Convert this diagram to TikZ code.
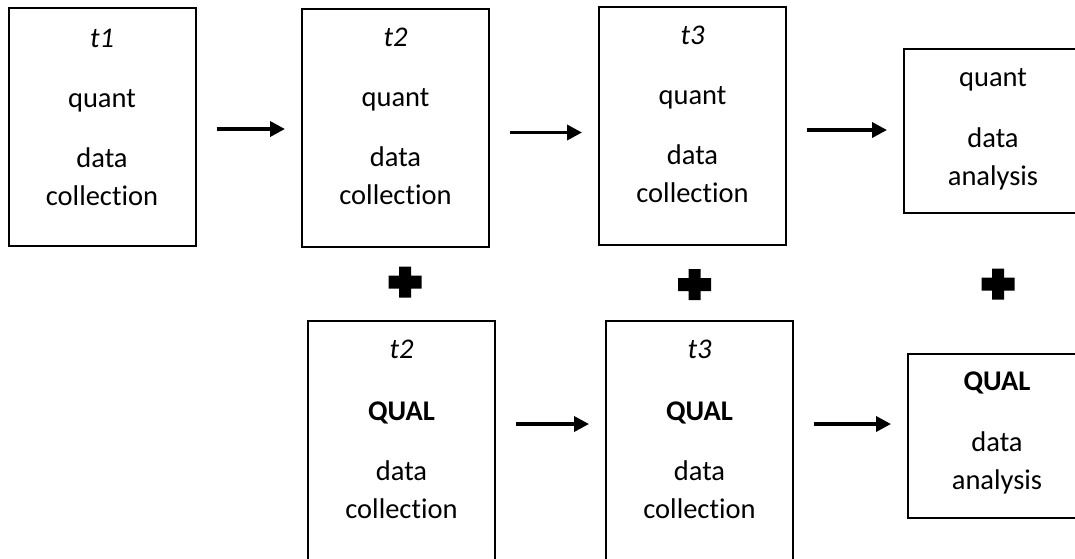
\documentclass[tikz,border=0pt]{standalone}
\usepackage{fontspec}
\setmainfont{Carlito}[Ligatures=NoCommon]
\usetikzlibrary{arrows.meta}

\begin{document}
\begin{tikzpicture}[x=0.5pt,y=-0.5pt,>={Triangle[length=7.5pt,width=7.5pt]},
        box/.style={draw,line width=1pt,minimum width=93.5pt,minimum height=119pt},
        abox/.style={draw,line width=1pt,minimum width=89pt,minimum height=82pt},
        lbl/.style={align=center,anchor=base,font=\fontsize{14.25}{19}\selectfont},
        flow/.style={->,line width=1.75pt,shorten <=10pt,shorten >=8pt}]
        \useasboundingbox (0,0) rectangle (1075,558);

        % quant strand
        \node[box] (q1) at (102,127) {};
        \node[box] (q2) at (395.5,127.5) {};
        \node[box] (q3) at (692.5,126) {};
        \node[abox] (qa) at (993,131) {};

        \node[lbl] (q1t) at ([yshift=-39pt]q1.center) {\textit{t1}\\[11pt] quant\\[11pt] data\\ collection};
        \node[lbl] (q2t) at ([yshift=-38.25pt]q2.center) {\textit{t2}\\[11pt] quant\\[11pt] data\\ collection};
        \node[lbl] (q3t) at ([yshift=-38pt]q3.center) {\textit{t3}\\[11pt] quant\\[11pt] data\\ collection};
        \node[lbl] (qat) at ([yshift=-27pt]qa.center) {quant\\[11.5pt] data\\ analysis};

        % QUAL strand
        \node[box,minimum height=120pt] (Q2) at (401.5,441) {};
        \node[box,minimum height=120pt] (Q3) at (699.5,441) {};
        \node[abox] (QA) at (997,436) {};

        \node[lbl] (Q2t) at ([yshift=-38.5pt]Q2.center) {\textit{t2}\\[12pt] \textbf{QUAL}\\[11pt] data\\ collection};
        \node[lbl] (Q3t) at ([yshift=-38.5pt]Q3.center) {\textit{t3}\\[12pt] \textbf{QUAL}\\[11pt] data\\ collection};
        \node[lbl] (QAt) at ([yshift=-26.5pt]QA.center) {\textbf{QUAL}\\[11.5pt] data\\ analysis};

        \draw[flow] ([yshift=-1pt]q1.east) -- ([yshift=-1pt]q1.east -| q2.west);
        \draw[flow] ([yshift=-2.5pt]q2.east) -- ([yshift=-2.5pt]q2.east -| q3.west);
        \draw[flow] ([yshift=-2pt]q3.east) -- ([yshift=-2pt]q3.east -| qa.west);
        \draw[flow] ([yshift=8.5pt]Q2.east) -- ([yshift=8.5pt]Q2.east -| Q3.west);
        \draw[flow] ([yshift=8.5pt]Q3.east) -- ([yshift=8.5pt]Q3.east -| QA.west);

        % plus signs
        \foreach \x/\y in {405/282, 694.5/284.5, 998/284}
          \fill[shift={(\x,\y)}] (-6,-15.5) rectangle (6,15.5) (-16.5,-6.5) rectangle (16.5,6.5);
\end{tikzpicture}
\end{document}
